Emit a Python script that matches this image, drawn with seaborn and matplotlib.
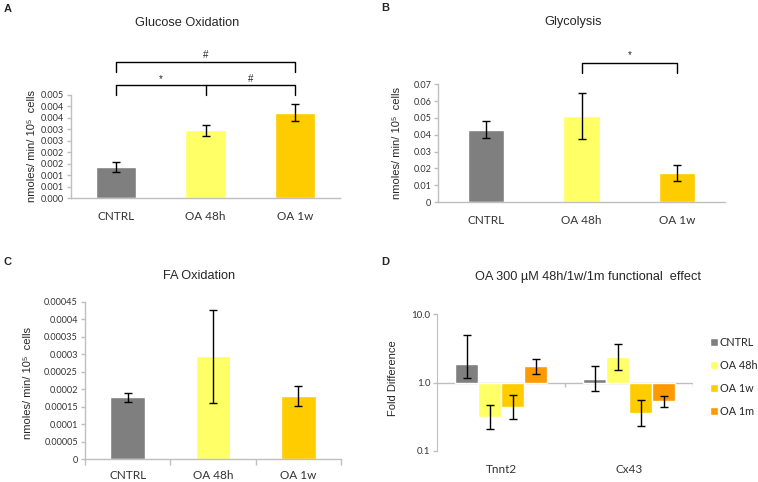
import numpy as np
import pandas as pd
import seaborn as sns
import matplotlib
matplotlib.use("Agg")
import matplotlib.pyplot as plt

# ---- data ----
conditions = ["CNTRL", "OA 48h", "OA 1w"]
glucose_mean = [0.00137, 0.00297, 0.00373]
glucose_err = [0.00022, 0.00024, 0.00038]
glucose_ticklabels = ["0.000", "0.001", "0.001", "0.002", "0.002",
                      "0.003", "0.003", "0.004", "0.004", "0.005"]

glyco_mean = [0.0429, 0.0512, 0.0173]
glyco_err = [0.0050, 0.0137, 0.0046]

fa_mean = [0.000177, 0.000294, 0.000180]
fa_err = [0.000012, 0.000133, 0.000029]

genes = ["Tnnt2", "Cx43"]
groups = ["CNTRL", "OA 48h", "OA 1w", "OA 1m"]
fold_tnnt2 = [1.87, 0.311, 0.444, 1.72]
fold_tnnt2_lo = [1.15, 0.21, 0.295, 1.33]
fold_tnnt2_hi = [5.0, 0.46, 0.66, 2.22]
fold_cx43 = [1.11, 2.40, 0.355, 0.531]
fold_cx43_lo = [0.76, 1.54, 0.228, 0.434]
fold_cx43_hi = [1.72, 3.69, 0.556, 0.64]

colors = ["#7f7f7f", "#ffff66", "#ffcc00", "#ff9900"]
axis_grey = "#bfbfbf"

sns.set_style("white")
plt.rcParams["font.family"] = ["Liberation Sans", "DejaVu Sans"]
tick_font = "Lato"

W, H = 758, 482
fig = plt.figure(figsize=(W / 100, H / 100), dpi=100)


def fx(x):
    return x / W


def fy(y):
    return 1 - y / H


def add_axes(left, right, top, bottom):
    return fig.add_axes([fx(left), fy(bottom), (right - left) / W, (bottom - top) / H])


def style_axes(ax, boundary_ticks=True, xpad=7):
    sns.despine(ax=ax)
    for s in ["left", "bottom"]:
        ax.spines[s].set_color(axis_grey)
        ax.spines[s].set_linewidth(1)
    ax.tick_params(axis="y", left=True, length=3, width=1, color=axis_grey,
                   labelsize=6.6, pad=2)
    ax.tick_params(axis="x", bottom=False, labelsize=8.5, pad=xpad)
    for lab in ax.get_yticklabels() + ax.get_xticklabels():
        lab.set_fontfamily(tick_font)
        lab.set_color("#333333")
    if boundary_ticks:
        ax.set_xticks([-0.5, 0.5, 1.5, 2.5], minor=True)
        ax.tick_params(axis="x", which="minor", bottom=True, length=4, width=1,
                       color=axis_grey)
    ax.set_xlim(-0.5, 2.5)
    ax.set_xlabel("")


def bars(ax, mean, err, width):
    sns.barplot(x=conditions, y=mean, hue=conditions, palette=colors[:3],
                width=width, saturation=1, errorbar=None, legend=False, ax=ax)
    ax.errorbar(range(len(mean)), mean, yerr=err, fmt="none", ecolor="black",
                elinewidth=1, capsize=3, capthick=1)


def bracket(ax, x0, x1, y, ydrop, mid=None):
    ax.plot([x0, x0, x1, x1], [ydrop, y, y, ydrop], color="black", lw=1, clip_on=False)
    if mid is not None:
        ax.plot([mid, mid], [y, ydrop], color="black", lw=1, clip_on=False)


ylab = "nmoles/ min/ 10\u2075  cells"

# ---- A: glucose oxidation ----
axA = add_axes(71, 340, 95, 198)
bars(axA, glucose_mean, glucose_err, 0.45)
axA.set_ylim(0, 0.0045)
axA.set_yticks(np.arange(10) * 0.0005)
axA.set_yticklabels(glucose_ticklabels)
style_axes(axA, boundary_ticks=False, xpad=6)
axA.set_ylabel(ylab, fontsize=8)
axA.yaxis.set_label_coords(-0.128, 0.5)
bracket(axA, 0, 2, 0.00494, 0.0045, mid=1)
bracket(axA, 0, 2, 0.00594, 0.00550)
axA.text(0.5, 0.0052, "*", ha="center", va="center", fontsize=7)
axA.text(1.5, 0.0052, "#", ha="center", va="center", fontsize=7)
axA.text(1.0, 0.00625, "#", ha="center", va="center", fontsize=7)
fig.text(fx(187), fy(23), "Glucose Oxidation", ha="center", va="center", fontsize=9.2)

# ---- B: glycolysis ----
axB = add_axes(438.3, 725, 84.3, 202)
bars(axB, glyco_mean, glyco_err, 0.38)
axB.set_ylim(0, 0.07)
axB.set_yticks(np.arange(8) * 0.01)
axB.set_yticklabels(["0"] + [f"{v:.2f}" for v in np.arange(1, 8) * 0.01])
style_axes(axB, boundary_ticks=False, xpad=6)
axB.set_ylabel(ylab, fontsize=8)
axB.yaxis.set_label_coords(-0.128, 0.5)
bracket(axB, 1, 2, 0.0828, 0.0769)
axB.text(1.5, 0.0876, "*", ha="center", va="center", fontsize=7)
fig.text(fx(573), fy(22), "Glycolysis", ha="center", va="center", fontsize=9.2)

# ---- C: FA oxidation ----
axC = add_axes(85, 341, 301.7, 459.3)
bars(axC, fa_mean, fa_err, 0.41)
axC.set_ylim(0, 0.00045)
cticks = np.arange(10) * 0.00005
axC.set_yticks(cticks)
axC.set_yticklabels(["0"] + [f"{v:.5f}".rstrip("0") for v in cticks[1:]])
style_axes(axC, boundary_ticks=True, xpad=4.5)
axC.set_ylabel(ylab, fontsize=8)
axC.yaxis.set_label_coords(-0.202, 0.484)
fig.text(fx(199), fy(276), "FA Oxidation", ha="center", va="center", fontsize=9.2)

# ---- D: fold difference (log10 scale) ----
df = pd.DataFrame({
    "gene": np.repeat(genes, len(groups)),
    "group": groups * len(genes),
    "fold": fold_tnnt2 + fold_cx43,
    "lo": fold_tnnt2_lo + fold_cx43_lo,
    "hi": fold_tnnt2_hi + fold_cx43_hi,
})
df["logfold"] = np.log10(df["fold"])

axD = add_axes(437.3, 693.3, 314.3, 450.7)
sns.barplot(data=df, x="gene", y="logfold", hue="group", hue_order=groups,
            palette=colors, width=0.72, saturation=1, errorbar=None, ax=axD)
for cont, grp in zip(axD.containers, groups):
    sub = df[df["group"] == grp].set_index("gene").loc[genes]
    xs = [b.get_x() + b.get_width() / 2 for b in cont]
    lo = np.log10(sub["fold"]) - np.log10(sub["lo"])
    hi = np.log10(sub["hi"]) - np.log10(sub["fold"])
    axD.errorbar(xs, np.log10(sub["fold"]), yerr=[lo, hi], fmt="none",
                 ecolor="black", elinewidth=1, capsize=3, capthick=1)
axD.set_xlim(-0.5, 1.5)
axD.set_ylim(-1, 1)
axD.set_yticks([-1, 0, 1])
axD.set_yticklabels(["0.1", "1.0", "10.0"])
sns.despine(ax=axD, bottom=True)
axD.spines["left"].set_color(axis_grey)
axD.axhline(0, color=axis_grey, lw=1, zorder=0.5)
axD.vlines([0.5, 1.5], -0.06, 0, color=axis_grey, lw=1)
axD.tick_params(axis="y", left=True, length=3, width=1, color=axis_grey,
                labelsize=7, pad=2)
axD.tick_params(axis="x", bottom=False, labelsize=8.5, pad=6)
for lab in axD.get_yticklabels() + axD.get_xticklabels():
    lab.set_fontfamily(tick_font)
    lab.set_color("#333333")
axD.set_xlabel("")
axD.set_ylabel("Fold Difference", fontsize=8)
axD.yaxis.set_label_coords(-0.152, 0.533)
leg = axD.legend(loc="upper left", bbox_to_anchor=(fx(710), fy(337)),
                 bbox_transform=fig.transFigure, frameon=False, borderpad=0,
                 borderaxespad=0, handlelength=0.7, handleheight=0.7,
                 handletextpad=0.2, labelspacing=1.1,
                 prop={"family": tick_font, "size": 7.8})
fig.text(fx(588), fy(277), "OA 300 \u00b5M 48h/1w/1m functional  effect",
         ha="center", va="center", fontsize=9.2)

# ---- panel letters ----
for letter, (x, y) in zip("ABCD", [(7.5, 8.7), (385.5, 7.7), (7, 261.7), (385, 262)]):
    fig.text(fx(x), fy(y), letter, ha="center", va="center", fontsize=8,
             fontweight="bold")

fig.savefig("out.png", dpi=100)
